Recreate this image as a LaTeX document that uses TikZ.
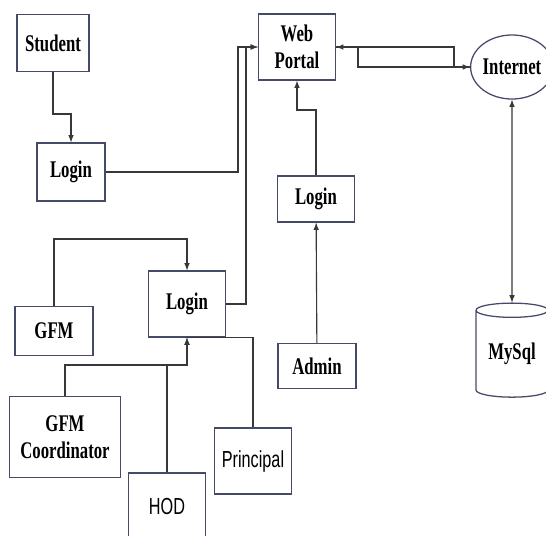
\documentclass[tikz,border=0pt]{standalone}
\usepackage{fontspec}
\usepackage{tikz}
\usetikzlibrary{arrows,shapes.geometric}
\newfontfamily\lblfont[FakeStretch=0.7]{Liberation Serif}
\newfontfamily\lblsans[FakeStretch=0.7]{Liberation Sans}
\definecolor{boxc}{RGB}{70,74,105}
\definecolor{linec}{RGB}{55,55,60}

\begin{document}
\begin{tikzpicture}[x=0.025cm,y=-0.025cm]
\tikzstyle{box}=[rectangle,draw=boxc,line width=0.9pt,align=center,inner sep=1pt,font=\lblfont\fontsize{17}{19}\selectfont\bfseries]
\tikzstyle{sbox}=[box,font=\lblsans\fontsize{16.5}{19}\selectfont]
\tikzstyle{op}=[->,>=latex,color=linec,line width=0.8pt]
\useasboundingbox (0,0) rectangle (546,535);

\node (1) at (53,43) [box,minimum width=1.8cm,minimum height=1.425cm]{Student};
\node (2) at (71,172) [box,minimum width=1.7cm,minimum height=1.45cm]{Login};
\node (3) at (297,47) [box,minimum width=1.925cm,minimum height=1.65cm]{Web\\Portal};
\node (4) at (512,67) [ellipse,draw=boxc,line width=0.9pt,minimum width=1.8cm,minimum height=1.6cm,inner sep=0pt,font=\lblfont\fontsize{17}{19}\selectfont\bfseries]{Internet};
\node (5) at (316,199) [box,minimum width=1.925cm,minimum height=1.15cm]{Login};
\node (6) at (317,366) [box,minimum width=1.95cm,minimum height=1.125cm]{Admin};
\node (7) at (512,354) [cylinder,shape border rotate=90,aspect=0.3,draw=boxc,line width=0.9pt,minimum width=1.8cm,minimum height=2.35cm,inner sep=0pt,font=\lblfont\fontsize{17}{19}\selectfont\bfseries]{MySql};

\node (8) at (187,304) [box,minimum width=1.925cm,minimum height=1.65cm]{Login};
\node (9) at (54,331) [box,minimum width=1.95cm,minimum height=1.225cm]{GFM};
\node (10) at (65,437) [box,minimum width=2.775cm,minimum height=2.025cm]{GFM\\Coordinator};
\node (11) at (167,507) [sbox,minimum width=1.925cm,minimum height=1.7cm]{HOD};
\node (12) at (253,461) [sbox,minimum width=1.925cm,minimum height=1.65cm]{Principal};

\draw[op] (1) -- (53,114) -| (2);
\draw[op] (2.east) -- (238,172) |- (3.west);
\draw[op] (8.east) -- (246,304) |- (3.west);
\draw[op] (6) -- (5);
\draw[op] (5.north) -- (316,110) -| (3.south);
\draw[op] (3.east) -- (358,47) |- (4.west);
\draw[op] (4.west) -- (454,67) |- (3.east);
\draw[op,<->] (4) -- (7);
\draw[op] (9.north) -- (54,239) -| (8);
\draw[op] (10.north) -- (65,365) -| (8);
\draw[op] (11.north) -- (167,365) -| (8);
\draw[op,-] (12.north) |- (8.south);
\end{tikzpicture}
\end{document}
